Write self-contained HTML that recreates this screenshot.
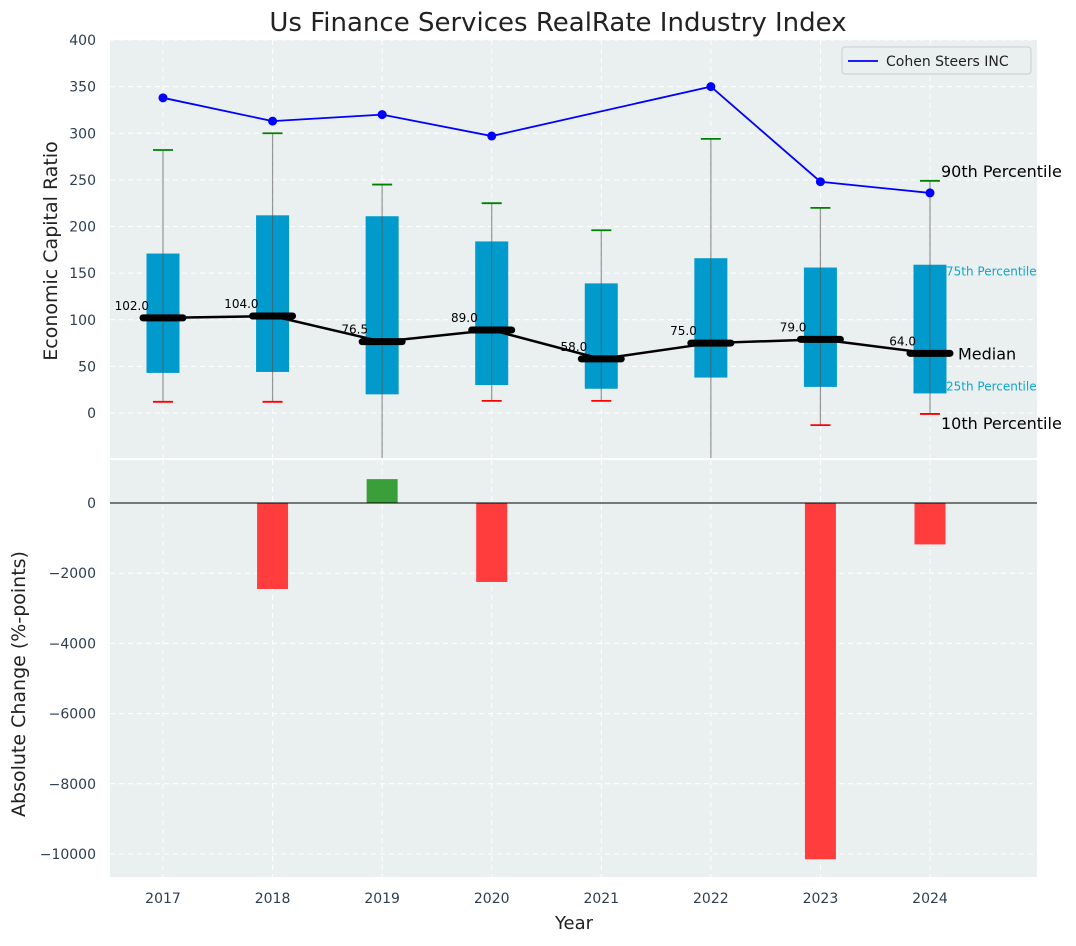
<!DOCTYPE html>
<html><head><meta charset="utf-8"><style>
body{margin:0;background:#fff;font-family:"DejaVu Sans","Liberation Sans",sans-serif}
svg text{font-family:"DejaVu Sans","Liberation Sans",sans-serif}
</style></head><body>
<svg id="c" width="1076" height="942"></svg>
<script>
const years=[2017,2018,2019,2020,2021,2022,2023,2024];
const q1=[43,44,20,30,26,38,28,21];
const q3=[171,212,211,184,139,166,156,159];
const med=[102,104,76.5,89,58,75,79,64];
const p10=[12,12,-60,13,13,-70,-13,-1];
const p90=[282,300,245,225,196,294,220,249];
const cohen=[338,313,320,297,null,350,248,236];
const change=[0,-2450,680,-2250,0,0,-10150,-1180];
const topTicks=[0,50,100,150,200,250,300,350,400];
const botTicks=[0,-2000,-4000,-6000,-8000,-10000];

const NS="http://www.w3.org/2000/svg";
const svg=document.getElementById('c');
function mk(t,a,p,txt){const e=document.createElementNS(NS,t);for(const k in a)e.setAttribute(k,a[k]);if(txt!==undefined)e.textContent=txt;(p||svg).appendChild(e);return e;}
const L=110,R=1037,T1=40,B1=458,T2=460,B2=877;
const x=v=>163+(v-2017)*109.57;
const y1=v=>413-v*0.9325;
const y2=v=>503-v*0.0351;
let e=mk('rect',{x:L,y:T1,width:R-L,height:B1-T1,fill:'#eaeff0'});
e=mk('rect',{x:L,y:T2,width:R-L,height:B2-T2,fill:'#eaeff0'});
const clip1=mk('clipPath',{id:'cl1'});mk('rect',{x:L,y:T1,width:R-L,height:B1-T1},clip1);
const clip2=mk('clipPath',{id:'cl2'});mk('rect',{x:L,y:T2,width:R-L,height:B2-T2},clip2);
const g1=mk('g',{'clip-path':'url(#cl1)'});const g2=mk('g',{'clip-path':'url(#cl2)'});
const gs={stroke:'#fff','stroke-dasharray':'5,4','stroke-width':1};
years.forEach(v=>{mk('line',{x1:x(v),x2:x(v),y1:T1,y2:B1,...gs},g1);mk('line',{x1:x(v),x2:x(v),y1:T2,y2:B2,...gs},g2);
 e=mk('text',{x:x(v),y:903,'text-anchor':'middle','font-size':14,fill:'#2d3e50'},null,v);});
topTicks.forEach(v=>{mk('line',{x1:L,x2:R,y1:y1(v),y2:y1(v),...gs},g1);
 e=mk('text',{x:96,y:y1(v)+5,'text-anchor':'end','font-size':14,fill:'#2d3e50'},null,v);});
botTicks.forEach(v=>{mk('line',{x1:L,x2:R,y1:y2(v),y2:y2(v),...gs},g2);
 e=mk('text',{x:96,y:y2(v)+5,'text-anchor':'end','font-size':14,fill:'#2d3e50'},null,v===0?'0':'\u2212'+Math.abs(v));});
years.forEach((v,i)=>{const cx=x(v);
 e=mk('rect',{x:cx-16.5,y:y1(q3[i]),width:33,height:y1(q1[i])-y1(q3[i]),fill:'#009bcc'},g1);
 e=mk('line',{x1:cx,x2:cx,y1:y1(p10[i]),y2:y1(p90[i]),stroke:'#555','stroke-opacity':0.6,'stroke-width':1.2},g1);
 e=mk('line',{x1:cx-10,x2:cx+10,y1:y1(p90[i]),y2:y1(p90[i]),stroke:'green','stroke-width':1.8},g1);
 e=mk('line',{x1:cx-10,x2:cx+10,y1:y1(p10[i]),y2:y1(p10[i]),stroke:'red','stroke-width':1.8},g1);
});
e=mk('polyline',{points:years.map((v,i)=>x(v)+','+y1(med[i])).join(' '),fill:'none',stroke:'#000','stroke-width':2.5},g1);
years.forEach((v,i)=>{e=mk('line',{x1:x(v)-20,x2:x(v)+20,y1:y1(med[i]),y2:y1(med[i]),stroke:'#000','stroke-width':7,'stroke-linecap':'round'},g1);
 e=mk('text',{x:x(v)-14,y:y1(med[i])-8,'text-anchor':'end','font-size':12,fill:'#000'},g1,med[i].toFixed(1));});
let pts=[];years.forEach((v,i)=>{if(cohen[i]!==null)pts.push(x(v)+','+y1(cohen[i]));});
e=mk('polyline',{points:pts.join(' '),fill:'none',stroke:'#0000ff','stroke-width':1.8},g1);
years.forEach((v,i)=>{if(cohen[i]===null)return;e=mk('circle',{cx:x(v),cy:y1(cohen[i]),r:4.5,fill:'#0000ff'},g1);});
const li=7,lx=x(years[li]);
e=mk('text',{x:lx+11,y:y1(p90[li])-4,'font-size':16,fill:'#000'},null,'90th Percentile');
e=mk('text',{x:lx+16,y:y1(q3[li])+11,'font-size':12,fill:'#0ea5cf'},null,'75th Percentile');
e=mk('text',{x:lx+28,y:y1(med[li])+6,'font-size':16,fill:'#000'},null,'Median');
e=mk('text',{x:lx+16,y:y1(q1[li])-3,'font-size':12,fill:'#0ea5cf'},null,'25th Percentile');
e=mk('text',{x:lx+11,y:y1(p10[li])+15,'font-size':16,fill:'#000'},null,'10th Percentile');
const lg=mk('g',{});
mk('rect',{x:842,y:47,width:189,height:27,rx:3,fill:'#eaeff0',stroke:'#ccc'},lg);
mk('line',{x1:848,x2:878,y1:61,y2:61,stroke:'#0000ff','stroke-width':1.8},lg);
mk('text',{x:886,y:66,'font-size':14,fill:'#222'},lg,'Cohen Steers INC');
years.forEach((v,i)=>{if(!change[i])return;const ya=y2(Math.max(0,change[i])),yb=y2(Math.min(0,change[i]));
 e=mk('rect',{x:x(v)-15.5,y:ya,width:31,height:yb-ya,fill:change[i]>0?'#3a9e3a':'#ff3d3d'},g2);});
e=mk('line',{x1:L,x2:R,y1:y2(0),y2:y2(0),stroke:'#000','stroke-width':1},g2);
e=mk('text',{x:558,y:31,'text-anchor':'middle','font-size':26,fill:'#222'},null,'Us Finance Services RealRate Industry Index');
e=mk('text',{x:574,y:929,'text-anchor':'middle','font-size':18,fill:'#222'},null,'Year');
e=mk('text',{x:0,y:0,'text-anchor':'middle','font-size':19,fill:'#222',transform:'translate(57,251) rotate(-90)'},null,'Economic Capital Ratio');
e=mk('text',{x:0,y:0,'text-anchor':'middle','font-size':19,fill:'#222',transform:'translate(25,684) rotate(-90)'},null,'Absolute Change (%-points)');
</script>
</body></html>
